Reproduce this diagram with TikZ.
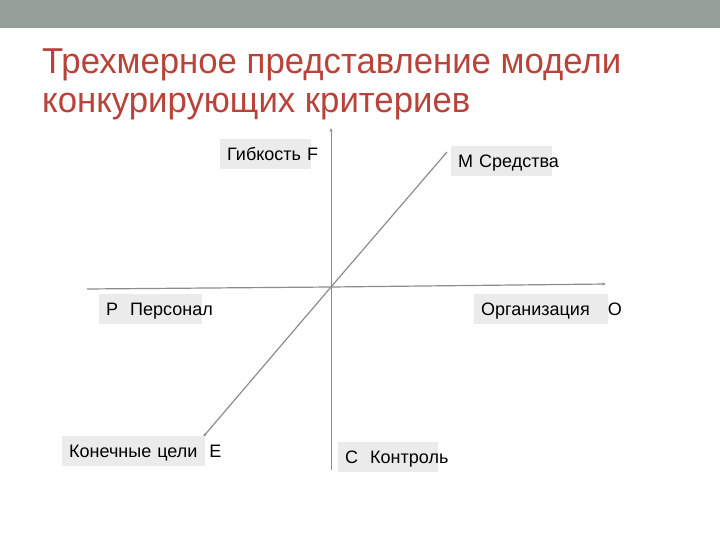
\documentclass[tikz,border=0pt]{standalone}
\usepackage{fontspec}
\setmainfont{Liberation Sans}
\usetikzlibrary{arrows.meta}
\definecolor{barcol}{HTML}{94A097}
\definecolor{titlecol}{HTML}{B8433A}
\definecolor{axiscol}{HTML}{8C8C8C}
\definecolor{boxcol}{HTML}{EBEBEB}
\tikzset{
  lbl/.style={fill=boxcol, inner xsep=7pt, inner ysep=0pt, minimum height=30pt,
    font=\fontsize{18}{18}\selectfont, text=black, anchor=west, align=left, text depth=0pt},
  axis/.style={draw=axiscol, line width=1.2pt, -{Stealth[length=4pt,width=3pt]}},
  ttl/.style={text=titlecol, font=\fontsize{36}{36}\selectfont, anchor=base west, inner sep=0pt}
}
\begin{document}
\begin{tikzpicture}[x=1pt,y=-1pt]
\useasboundingbox (0,0) rectangle (720,540);
\fill[barcol] (0,0) rectangle (720,28);
\node[ttl] (t1) at (42,74) {\scalebox{0.965}[1]{Трехмерное представление модели}};
\node[ttl] (t2) at (42,113) {\scalebox{0.965}[1]{конкурирующих критериев}};
\coordinate (O) at (331,287);
\coordinate (Ftop) at (331,128);
\coordinate (Cbot) at (331,470);
\coordinate (Pleft) at (87,289);
\coordinate (Oright) at (606,284);
\coordinate (Mtop) at (447,152);
\coordinate (Ebot) at (203,437);
\draw[axiscol, line width=1pt] (Cbot) -- (O);
\draw[axis, line width=1pt] (O) -- (Ftop);
\draw[axiscol, line width=1.2pt] (Pleft) -- (O);
\draw[axis] (O) -- (Oright);
\draw[axiscol, line width=1.2pt] (O) -- (Mtop);
\draw[axis] (O) -- (Ebot);
\node[lbl, text width=77pt] (F) at (220,154) {\mbox{Гибкость F}};
\node[lbl, text width=87pt] (M) at (451,161) {\mbox{М Средства}};
\node[lbl, text width=89pt] (P) at (99,309) {\mbox{Р\ \ Персонал}};
\node[lbl, text width=120pt] (Org) at (474,309) {\mbox{Организация\ \ \ О}};
\node[lbl, text width=129pt] (E) at (62,451) {\mbox{Конечные цели\ \ Е}};
\node[lbl, text width=86pt] (C) at (338,457) {\mbox{С\ \ Контроль}};
\end{tikzpicture}
\end{document}
